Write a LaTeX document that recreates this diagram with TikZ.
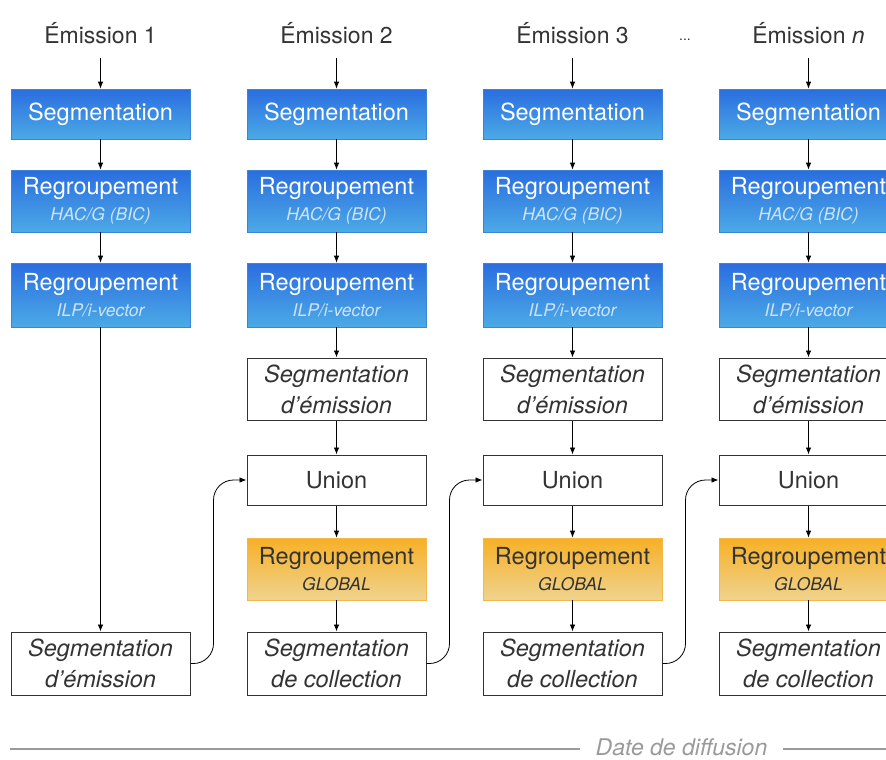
\documentclass[tikz,border=0pt]{standalone}
\usepackage{fontspec}
\setmainfont{TeX Gyre Heros}
\usetikzlibrary{arrows.meta}
\definecolor{bluetop}{HTML}{2A6DE0}
\definecolor{bluebot}{HTML}{4CAAE6}
\definecolor{blueline}{HTML}{3A86D6}
\definecolor{subblue}{HTML}{CFE3F8}
\definecolor{orangetop}{HTML}{F7B026}
\definecolor{orangebot}{HTML}{EFD38E}
\definecolor{orangeline}{HTML}{F2B94A}
\definecolor{textgray}{HTML}{333333}
\definecolor{axisgray}{HTML}{9A9A9A}
\newcommand\subtxt[1]{{\fontsize{17.5}{19}\selectfont\itshape #1}}
\tikzset{
  box/.style={minimum width=179pt, inner sep=0pt, align=center,
    font=\fontsize{23.5}{28}\selectfont},
  bluebox/.style={box, top color=bluetop, bottom color=bluebot,
    draw=blueline, line width=.8pt, text=white},
  orangebox/.style={box, top color=orangetop, bottom color=orangebot,
    draw=orangeline, line width=.8pt, text=textgray},
  whitebox/.style={box, draw=textgray, line width=1pt, fill=white,
    text=textgray, font=\fontsize{23.5}{31}\selectfont\itshape},
  title/.style={inner sep=0pt, anchor=base, text=textgray,
    font=\fontsize{23}{27}\selectfont},
  conn/.style={draw=black, line width=.8pt, -{Latex[length=7pt,width=5.5pt]}},
}
\begin{document}
\begin{tikzpicture}[x=1pt, y=-1pt]
  \clip (0,0) rectangle (886,760);
  \useasboundingbox (0,0) rectangle (886,760);
  % les quatre emissions
  \foreach \i/\x/\n in {1/100.5/1, 2/336.5/2, 3/572.5/3, 4/808.5/\textit{n}} {
    \node[title] (t\i) at (\x,44) {Émission \n};
    \node[bluebox, minimum height=50pt] (seg\i) at (\x,114) {Segmentation};
    \node[bluebox, minimum height=62pt] (hac\i) at (\x,201)
      {Regroupement\\[-2pt]\textcolor{subblue}{\subtxt{HAC/G (BIC)}}};
    \node[bluebox, minimum height=64pt] (ilp\i) at (\x,295)
      {Regroupement\\[-2pt]\textcolor{subblue}{\subtxt{ILP/i-vector}}};
    \draw[conn, shorten <=13pt] (t\i.south) -- (seg\i);
    \draw[conn] (seg\i) -- (hac\i);
    \draw[conn] (hac\i) -- (ilp\i);
  }
  \node[title, font=\fontsize{14}{16}\selectfont] (dots) at (685,41) {...};
  \node[whitebox, minimum height=63pt] (co1) at (100.5,663.5)
    {Segmentation\\d'émission};
  \draw[conn] (ilp1) -- (co1);
  \foreach \i/\x in {2/336.5, 3/572.5, 4/808.5} {
    \node[whitebox, minimum height=62pt] (em\i) at (\x,389)
      {Segmentation\\d'émission};
    \node[whitebox, font=\fontsize{23.5}{28}\selectfont, minimum height=50pt]
      (un\i) at (\x,480) {Union};
    \node[orangebox, minimum height=62pt] (gl\i) at (\x,569)
      {Regroupement\\[-2pt]\subtxt{GLOBAL}};
    \node[whitebox, minimum height=63pt] (co\i) at (\x,663.5)
      {Segmentation\\de collection};
    \draw[conn] (ilp\i) -- (em\i);
    \draw[conn] (em\i) -- (un\i);
    \draw[conn] (un\i) -- (gl\i);
    \draw[conn] (gl\i) -- (co\i);
  }
  % passage d'une emission a la suivante
  \foreach \a/\b in {1/2, 2/3, 3/4}
    \draw[conn, rounded corners=20pt] (co\a.east) -- ++(23,0) |- (un\b.west);
  % axe du temps
  \node[inner sep=0pt, anchor=base, text=axisgray,
    font=\fontsize{23}{27}\selectfont\itshape] (date) at (681.5,755)
    {Date de diffusion};
  \coordinate (axl) at (10,749);
  \coordinate (axr) at (886,749);
  \draw[axisgray, line width=1.4pt] (axl) -- ([xshift=-15pt]date.west |- axl);
  \draw[axisgray, line width=1.4pt] ([xshift=15pt]date.east |- axr) -- (axr);
\end{tikzpicture}
\end{document}
